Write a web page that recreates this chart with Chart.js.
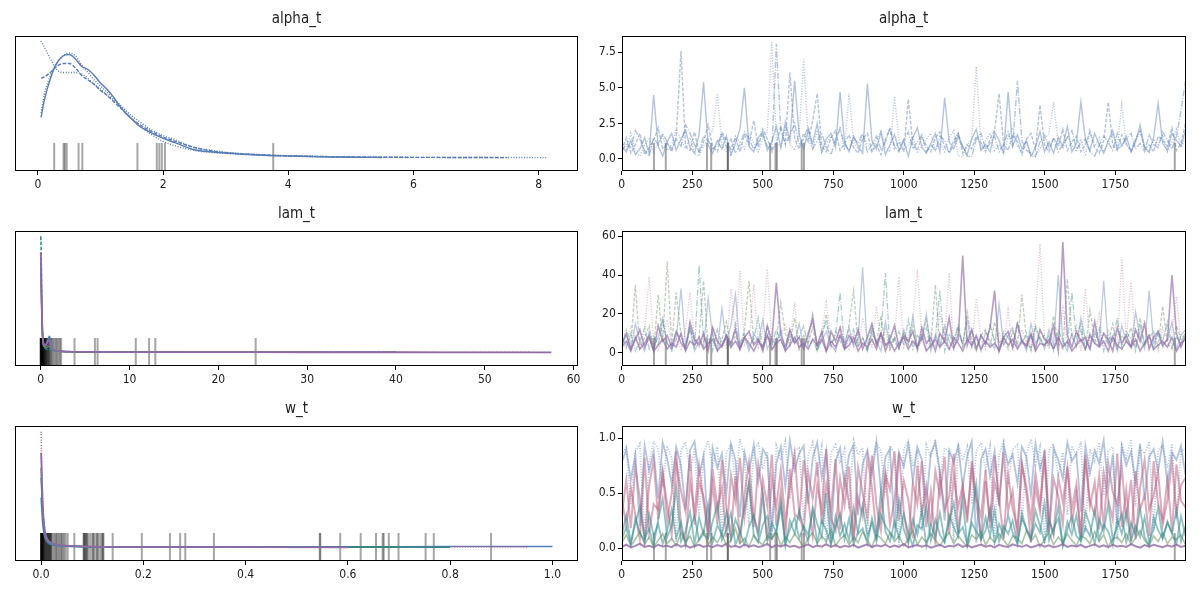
<!DOCTYPE html>
<html>
<head>
<meta charset="utf-8">
<script src="https://cdn.jsdelivr.net/npm/chart.js@4.4.1/dist/chart.umd.min.js"></script>
<style>
body { margin: 0; background: #fff; width: 1200px; height: 600px; position: relative; overflow: hidden; }
canvas { position: absolute; }
</style>
</head>
<body>
<canvas id="alphaKde" width="590" height="200" style="left:0;top:0"></canvas>
<canvas id="alphaTrace" width="610" height="200" style="left:590px;top:0"></canvas>
<canvas id="lamKde" width="590" height="200" style="left:0;top:195px"></canvas>
<canvas id="lamTrace" width="610" height="200" style="left:590px;top:195px"></canvas>
<canvas id="wKde" width="590" height="200" style="left:0;top:390px"></canvas>
<canvas id="wTrace" width="610" height="200" style="left:590px;top:390px"></canvas>
<script>
// ---- data ----
var lastDraw = 1999;
var divergentDraws = [114, 156, 302, 317, 376, 376, 526, 545, 550, 638, 646, 1961];

// alpha_t
var alphaGrid = [0.05,0.1,0.2,0.3,0.4,0.5,0.6,0.7,0.8,0.9,1.0,1.1,1.2,1.3,1.4,1.5,1.6,1.8,2.0,2.2,2.5,2.8,3.0,3.5,4.0,4.5,5.0,5.5,6.0,7.0,7.5,8.15];
var alphaKde1 = [0.27,0.38,0.53,0.63,0.68,0.69,0.66,0.61,0.59,0.55,0.50,0.46,0.41,0.35,0.30,0.26,0.22,0.17,0.13,0.10,0.055,0.04,0.033,0.02,0.013,0.008,0.005,0.003];
var alphaKde2 = [0.53,0.54,0.57,0.61,0.63,0.63,0.60,0.55,0.52,0.49,0.45,0.42,0.38,0.34,0.30,0.26,0.23,0.18,0.14,0.11,0.07,0.045,0.035,0.022,0.014,0.01,0.007,0.005,0.004,0.003,0.002];
var alphaKde3 = [0.78,0.74,0.66,0.59,0.57,0.57,0.57,0.56,0.53,0.49,0.46,0.42,0.39,0.35,0.31,0.26,0.22,0.16,0.11,0.08,0.05,0.035,0.03,0.02,0.013,0.009,0.006,0.005,0.004,0.003,0.003,0.002];
var alphaKde4 = [0.30,0.42,0.55,0.63,0.68,0.70,0.68,0.62,0.57,0.52,0.48,0.44,0.40,0.36,0.32,0.28,0.25,0.19,0.15,0.12,0.07,0.05,0.038,0.024,0.015,0.01,0.006,0.004,0.003];
var alphaDivergent = [0.26, 0.41, 0.43, 0.46, 0.65, 0.71, 1.59, 1.90, 1.94, 1.98, 2.03, 3.76];
var alphaChain1 = [
  0.9,0.5,1.3,0.3,0.7,1.5,0.4,4.5,0.9,0.2,
  1.2,1.8,0.6,1.4,2.0,0.8,0.4,1.7,5.4,1.0,
  0.4,1.3,0.7,1.6,0.3,1.1,2.1,5.0,0.9,0.5,
  1.5,1.9,0.6,1.2,2.3,0.8,2.6,1.3,5.5,1.7,
  0.7,2.0,1.1,2.5,0.5,1.4,1.8,0.8,4.7,1.2,
  0.5,1.6,0.9,0.4,5.3,1.3,0.7,1.9,0.3,1.0,
  1.7,0.6,1.3,0.2,1.5,2.2,0.8,0.4,1.1,1.8,
  0.5,4.3,1.2,0.7,1.6,0.9,0.3,1.4,2.1,0.6,
  1.0,0.5,1.9,1.3,0.4,4.7,0.9,1.7,0.7,1.3,
  0.2,0.8,1.9,0.5,1.2,0.4,1.5,0.9,2.3,0.5,
  1.1,4.0,1.4,0.6,1.8,1.0,0.4,1.3,2.0,0.7,
  0.9,1.6,0.5,1.2,2.4,0.8,0.5,1.5,3.9,1.1,
  0.6,1.8,1.3,0.9,2.0];
var alphaChain2 = [
  0.6,1.5,0.4,1.0,1.8,0.3,0.8,1.3,2.2,0.7,
  1.1,0.5,1.6,7.6,0.9,0.6,1.9,0.4,1.2,2.4,
  0.9,0.5,1.9,1.3,0.7,1.5,0.5,1.7,1.0,2.7,
  0.8,2.1,1.4,0.6,1.1,2.3,1.0,6.1,1.4,0.7,
  1.8,1.2,2.7,4.6,0.9,0.5,1.5,2.0,0.6,1.1,
  1.7,0.8,0.4,1.4,1.8,0.5,1.0,0.3,1.4,2.1,
  0.7,1.2,0.5,4.2,1.0,0.6,1.6,0.9,0.5,1.5,
  1.9,0.8,0.5,1.3,1.8,0.4,1.0,0.7,1.6,1.1,
  0.5,1.4,2.0,4.6,1.0,0.6,1.7,1.2,0.3,1.4,
  1.8,0.7,3.8,1.0,0.5,1.5,0.9,2.1,0.6,1.2,
  1.6,0.5,1.0,1.9,0.8,0.4,1.3,4.0,1.0,0.6,
  1.7,1.1,0.5,1.4,2.0,0.7,1.0,0.5,1.6,1.3,
  0.9,2.2,0.6,1.1,2.5];
var alphaChain3 = [
  1.2,0.7,1.8,0.5,0.2,1.0,1.4,0.5,1.1,1.6,
  0.6,1.0,2.1,1.3,0.7,1.5,0.4,0.2,0.9,1.4,
  2.0,4.6,1.0,0.5,0.2,1.6,1.2,0.7,1.8,1.1,
  0.5,1.4,1.9,8.2,1.3,0.8,2.2,1.0,0.6,1.8,
  7.0,1.4,0.7,2.0,0.4,1.1,1.6,1.0,2.3,0.6,
  4.6,1.2,0.7,1.7,1.0,0.5,1.4,1.9,0.8,0.5,
  4.4,1.3,0.7,1.0,1.6,0.4,0.9,1.4,1.8,0.6,
  1.1,0.5,1.5,2.0,0.2,0.15,1.0,1.4,6.5,0.8,
  1.3,1.8,0.6,1.0,0.4,1.5,2.2,0.9,0.5,1.2,
  0.2,0.15,0.8,1.4,1.8,4.0,1.1,0.7,1.6,1.0,
  0.5,1.4,0.2,2.0,0.9,1.5,0.5,1.1,1.8,0.7,
  3.8,1.0,0.6,1.3,1.9,0.8,0.4,1.4,1.0,1.7,
  0.5,1.2,2.1,0.8,1.5];
var alphaChain4 = [
  0.5,1.1,0.8,2.0,1.4,0.6,0.2,1.5,1.0,1.8,
  1.2,0.7,1.4,0.9,2.4,1.8,1.0,0.5,1.6,1.3,
  0.7,1.0,1.8,0.8,1.4,0.4,1.0,1.9,1.4,0.7,
  1.2,1.7,0.9,0.5,8.1,1.9,1.1,1.6,2.5,1.0,
  1.4,2.3,0.7,1.3,1.8,0.8,0.3,1.4,2.1,1.0,
  0.6,1.5,1.1,1.8,0.5,1.0,1.6,0.7,1.2,2.2,
  0.9,0.5,1.4,1.9,0.7,1.2,1.7,0.5,1.0,0.6,
  1.6,1.3,0.4,1.0,1.8,0.8,0.2,0.15,1.4,1.8,
  0.7,1.1,1.6,0.5,1.0,1.9,0.9,5.5,1.3,0.6,
  0.4,0.2,1.2,1.7,0.8,1.4,0.5,1.0,1.5,2.0,
  0.7,1.1,1.4,0.5,0.2,1.0,1.6,1.2,0.6,1.8,
  0.9,1.4,1.8,0.7,1.1,0.5,1.7,1.0,0.8,1.9,
  1.3,0.7,1.6,3.4,5.5];
var alphaXTicks = [0, 2, 4, 6, 8];
var alphaYTicks = [0, 2.5, 5, 7.5];

// lam_t
var lamGrid = [0,0.05,0.1,0.2,0.35,0.5,0.7,0.9,1.0,1.1,1.3,1.6,2,3,5,10,20,30,40,45,50,55,57.5];
var lamKdeBlue = [0.8,0.7,0.45,0.15,0.06,0.06,0.1,0.15,0.16,0.12,0.05,0.02,0.012,0.007,0.004,0.002,0.001,0.0005,0.0003];
var lamKdeRed = [0.7,0.6,0.4,0.15,0.07,0.06,0.07,0.08,0.07,0.05,0.03,0.018,0.011,0.006,0.004,0.002,0.001,0.0006,0.0003,0.0002,0.0001,0.0001];
var lamKdeGreen = [0.9,0.75,0.5,0.18,0.07,0.05,0.05,0.06,0.06,0.05,0.03,0.018,0.011,0.006,0.004,0.002,0.001,0.0005];
var lamKdeTeal = [1.16,1.0,0.6,0.2,0.07,0.04,0.03,0.03,0.03,0.025,0.02,0.015,0.01,0.006,0.004,0.002,0.001,0.0005,0.0003];
var lamKdePurple = [1.0,0.85,0.55,0.2,0.08,0.07,0.09,0.12,0.11,0.08,0.04,0.02,0.012,0.007,0.004,0.002,0.001,0.0006,0.0003,0.0002,0.0001,0.0001,0.0001];
var lamDivergent = [0,0,0.01,0.02,0.03,0.05,0.06,0.08,0.1,0.12,0.13,0.16,0.18,0.2,0.22,0.24,0.28,0.3,0.32,0.37,0.4,0.42,0.48,0.52,0.55,0.62,0.66,0.7,0.78,0.85,0.9,0.95,1.05,1.15,1.25,1.4,1.55,1.7,1.85,2.0,2.15,2.3,3.8,6.1,6.4,10.7,12.2,12.9,24.2];
var lamBlue = [
  4,9,2,15,6,1,11,3,8,18,
  5,2,7,33,4,12,1,6,3,28,
  9,2,23,5,14,30,3,8,1,10,
  6,17,2,7,4,12,1,9,5,15,
  3,8,20,2,6,11,4,1,9,5,
  13,3,7,44,2,10,6,1,16,4,
  8,2,12,5,19,3,7,20,1,9,
  4,14,6,2,10,5,17,3,8,1,
  11,6,2,25,4,9,13,3,7,1,
  15,5,8,2,12,4,40,6,1,10,
  3,18,7,2,11,5,37,4,9,1,
  14,6,3,21,8,2,32,5,10,3,
  7,16,2,9,12];
var lamRed = [
  6,2,14,8,3,11,39,5,1,9,
  17,4,7,2,12,31,6,3,9,1,
  13,5,8,2,33,10,42,4,7,35,
  3,12,43,6,1,9,15,4,26,2,
  8,5,19,3,11,26,7,1,14,6,
  2,10,4,18,8,3,24,5,12,1,
  7,39,3,9,16,43,6,2,11,4,
  20,8,41,1,13,5,9,3,28,7,
  2,15,6,10,4,22,1,8,12,5,
  3,18,56,7,2,11,6,23,4,9,
  14,1,33,5,8,20,3,12,6,2,
  49,7,37,4,10,17,3,9,1,13,
  6,11,29,4,8];
var lamGreen = [
  3,12,5,35,2,8,14,1,30,6,
  47,4,31,9,2,13,6,8,37,3,
  10,1,7,16,4,9,2,12,37,5,
  8,3,14,1,6,26,10,4,18,2,
  9,5,13,1,7,20,3,11,6,2,
  15,32,4,8,1,12,5,19,3,9,
  6,2,11,4,14,1,8,17,5,35,
  3,10,2,7,13,4,21,6,1,9,
  12,3,16,5,8,2,11,4,30,7,
  1,14,6,9,3,19,5,2,38,8,
  4,12,1,22,7,3,10,5,15,2,
  9,6,13,1,18,4,8,11,3,24,
  5,2,14,7,10];
var lamTeal = [
  8,3,10,1,6,13,2,9,4,16,
  5,1,11,7,3,14,2,45,6,9,
  1,12,4,8,2,15,5,10,3,7,
  18,1,9,4,12,6,2,11,5,8,
  14,3,7,1,10,16,4,9,31,2,
  6,12,3,8,1,14,5,10,41,2,
  7,11,4,17,2,9,6,13,3,8,
  32,1,10,5,15,3,7,12,2,9,
  4,14,6,1,11,8,3,16,5,10,
  2,13,7,4,9,1,12,6,3,31,
  8,15,2,10,5,13,1,9,6,18,
  3,11,7,2,14,4,9,1,12,6,
  16,3,8,5,11];
var lamPurple = [
  5,10,2,7,12,3,8,1,14,6,
  9,3,11,5,2,16,7,4,10,1,
  13,6,3,9,5,12,2,8,11,4,
  7,1,14,6,36,9,3,12,5,8,
  2,10,17,4,7,1,11,6,13,3,
  9,5,12,2,8,15,4,10,1,7,
  14,3,9,6,11,2,13,5,8,1,
  10,6,18,3,7,50,4,12,2,9,
  5,13,32,1,8,11,3,15,6,4,
  10,2,12,7,5,14,1,57,9,3,
  11,6,8,2,16,4,10,7,1,13,
  5,9,3,12,6,15,2,8,11,4,
  7,40,10,3,9];
var lamPurple2 = [
  3,6,1,8,2,5,9,1,4,7,
  2,5,3,10,1,6,4,8,2,5,
  7,1,4,9,3,6,2,8,5,1,
  6,3,9,2,5,7,1,4,8,3,
  5,2,7,4,11,1,6,3,9,2,
  4,8,1,5,3,7,2,10,4,6,
  1,5,8,2,6,3,9,1,4,7,
  3,6,2,8,5,1,7,4,9,2,
  6,3,5,1,8,4,7,2,6,3,
  9,1,5,4,7,2,8,3,6,1,
  4,7,2,9,5,3,6,1,8,4,
  2,6,3,7,1,5,9,2,4,6,
  3,8,1,5,7];
var lamXTicks = [0, 10, 20, 30, 40, 50, 60];
var lamYTicks = [0, 20, 40, 60];

// w_t
var wGrid = [0,0.001,0.003,0.006,0.01,0.02,0.05,0.1,0.2,0.4,0.6,0.7,0.8,0.9,0.95,1.0];
var wKdeBlue = [0.5,0.42,0.25,0.13,0.07,0.03,0.015,0.01,0.008,0.008,0.009,0.01,0.011,0.012,0.013,0.012];
var wKdeRed = [1.16,0.9,0.5,0.25,0.12,0.05,0.02,0.012,0.009,0.008,0.008,0.008,0.009,0.01,0.008];
var wKdeGreen = [0.8,0.65,0.4,0.2,0.1,0.045,0.02,0.01,0.006,0.005,0.004,0.004];
var wKdeTeal = [0.7,0.6,0.35,0.18,0.09,0.04,0.018,0.01,0.007,0.006,0.006,0.006,0.005];
var wKdePurple = [0.95,0.8,0.45,0.22,0.11,0.05,0.02,0.01,0.006,0.005,0.004];
var wDivergent = [0,0,0,0.0005,0.001,0.001,0.0015,0.002,0.002,0.003,0.003,0.004,0.004,0.005,0.005,0.006,0.007,0.008,0.009,0.01,0.011,0.012,0.013,0.014,0.015,0.016,0.017,0.018,0.019,0.02,0.022,0.025,0.028,0.03,0.032,0.035,0.038,0.04,0.042,0.045,0.048,0.052,0.065,0.083,0.084,0.085,0.087,0.088,0.09,0.092,0.096,0.1,0.102,0.104,0.108,0.11,0.112,0.116,0.119,0.121,0.122,0.14,0.197,0.252,0.272,0.282,0.338,0.545,0.546,0.585,0.625,0.655,0.668,0.67,0.68,0.699,0.752,0.768,0.88];
var wBlue = [
  .85,.92,.40,.88,.95,.10,.78,.97,.90,.55,
  .93,.82,.05,.89,.96,.70,.91,.30,.86,.98,
  .75,.92,.15,.87,.94,.60,.99,.83,.20,.90,
  .95,.72,.88,.08,.93,.80,.97,.45,.89,.91,
  .25,.84,.96,.68,.92,.02,.87,.94,.77,.90,
  .35,.98,.85,.91,.12,.79,.95,.88,.50,.93,
  .86,.03,.90,.97,.74,.89,.18,.94,.83,.99,
  .62,.91,.87,.06,.95,.80,.92,.40,.88,.96,
  .71,.93,.10,.85,.97,.58,.90,.94,.22,.86,
  .99,.76,.92,.04,.89,.95,.65,.87,.30,.93,
  .84,.97,.14,.90,.79,.96,.48,.88,.92,.07,
  .94,.82,.99,.38,.91,.86,.97,.16,.89,.93,
  .73,.95,.27,.88,.90];
var wBlue2 = [
  .78,.90,.62,.85,.20,.93,.70,.88,.45,.96,
  .81,.58,.92,.75,.35,.89,.97,.66,.84,.12,
  .91,.73,.86,.50,.95,.80,.28,.87,.69,.94,
  .60,.90,.83,.15,.77,.92,.55,.98,.71,.86,
  .93,.40,.82,.96,.64,.88,.09,.79,.91,.57,
  .85,.94,.30,.76,.89,.67,.97,.52,.83,.90,
  .18,.87,.74,.95,.61,.92,.80,.42,.86,.96,
  .70,.25,.89,.78,.93,.56,.84,.97,.05,.81,
  .90,.65,.88,.38,.94,.76,.85,.59,.92,.83,
  .48,.95,.72,.87,.14,.91,.80,.63,.96,.79,
  .86,.33,.93,.68,.89,.77,.98,.54,.85,.22,
  .92,.75,.88,.60,.95,.44,.83,.90,.70,.97,
  .58,.87,.80,.93,.66];
var wRed = [
  .45,.20,.55,.30,.08,.82,.15,.40,.35,.70,
  .25,.50,.88,.18,.05,.60,.33,.75,.42,.10,
  .58,.22,.80,.36,.12,.65,.04,.48,.78,.28,
  .15,.62,.38,.85,.20,.52,.09,.72,.31,.26,
  .80,.44,.11,.57,.34,.90,.27,.16,.63,.39,
  .74,.07,.46,.29,.83,.55,.13,.37,.68,.21,
  .43,.87,.32,.06,.59,.40,.79,.19,.51,.03,
  .66,.35,.47,.86,.14,.54,.30,.71,.41,.09,
  .61,.24,.84,.45,.08,.67,.36,.18,.77,.49,
  .05,.56,.33,.89,.27,.12,.64,.42,.73,.23,
  .50,.10,.81,.38,.60,.17,.69,.44,.26,.86,
  .19,.53,.06,.70,.35,.48,.11,.79,.40,.25,
  .62,.15,.76,.43,.37];
var wRed2 = [
  .30,.62,.18,.74,.45,.08,.57,.80,.26,.68,
  .40,.12,.77,.52,.33,.85,.21,.60,.47,.15,
  .72,.36,.55,.10,.66,.43,.82,.28,.59,.19,
  .76,.49,.07,.63,.38,.71,.24,.54,.86,.31,
  .14,.69,.45,.78,.22,.58,.35,.81,.17,.64,
  .41,.11,.73,.50,.27,.84,.39,.16,.67,.53,
  .88,.25,.61,.44,.09,.75,.32,.56,.20,.70,
  .48,.83,.13,.65,.37,.58,.23,.79,.46,.29,
  .71,.18,.60,.42,.87,.34,.52,.10,.76,.55,
  .26,.68,.39,.81,.15,.63,.47,.22,.74,.36,
  .58,.12,.85,.43,.30,.66,.19,.77,.51,.40,
  .73,.27,.62,.08,.55,.80,.35,.48,.69,.21,
  .44,.78,.31,.57,.64];
var wGreen = [
  .05,.12,.02,.08,.15,.03,.10,.01,.07,.13,
  .04,.09,.02,.14,.06,.11,.01,.08,.16,.03,
  .10,.05,.13,.02,.07,.18,.04,.09,.01,.12,
  .06,.03,.11,.08,.15,.02,.10,.05,.13,.07,
  .01,.09,.14,.04,.11,.06,.17,.02,.08,.12,
  .03,.10,.05,.15,.07,.01,.12,.09,.04,.14,
  .06,.11,.02,.08,.16,.03,.10,.05,.13,.07,
  .02,.09,.14,.04,.11,.06,.01,.12,.08,.15,
  .03,.10,.05,.13,.07,.02,.11,.09,.04,.16,
  .06,.12,.01,.08,.14,.03,.10,.05,.13,.07,
  .02,.11,.09,.04,.15,.06,.12,.01,.08,.10,
  .05,.13,.03,.09,.16,.07,.02,.11,.06,.14,
  .04,.10,.08,.12,.03];
var wTeal = [
  .12,.30,.05,.22,.38,.08,.18,.02,.26,.45,
  .10,.20,.55,.06,.15,.33,.04,.28,.12,.09,
  .24,.40,.07,.17,.32,.03,.14,.36,.60,.11,
  .05,.21,.29,.09,.16,.42,.02,.25,.13,.34,
  .18,.06,.37,.22,.10,.50,.04,.19,.31,.08,
  .27,.03,.15,.39,.11,.23,.06,.30,.20,.14,
  .09,.44,.17,.05,.26,.12,.35,.02,.21,.10,
  .32,.07,.24,.41,.13,.19,.03,.28,.58,.08,
  .16,.36,.05,.22,.11,.30,.14,.04,.27,.18,
  .09,.34,.20,.06,.25,.13,.38,.02,.17,.29,
  .11,.07,.33,.21,.04,.26,.15,.40,.08,.19,
  .31,.05,.23,.12,.36,.10,.02,.28,.16,.09,
  .24,.13,.35,.06,.20];
var wTeal2 = [
  .08,.19,.03,.27,.14,.06,.31,.11,.22,.04,
  .16,.35,.09,.24,.02,.18,.29,.07,.13,.40,
  .05,.21,.12,.33,.08,.26,.15,.03,.19,.30,
  .10,.48,.06,.23,.14,.37,.04,.17,.28,.09,
  .20,.12,.34,.05,.25,.16,.03,.29,.11,.22,
  .07,.36,.13,.18,.04,.27,.10,.52,.15,.06,
  .24,.09,.31,.14,.02,.21,.17,.38,.07,.26,
  .12,.05,.30,.19,.10,.44,.03,.23,.15,.08,
  .28,.11,.35,.06,.20,.13,.25,.04,.32,.16,
  .09,.22,.14,.41,.07,.18,.27,.03,.24,.12,
  .30,.06,.19,.11,.35,.08,.21,.15,.02,.26,
  .13,.33,.07,.20,.10,.28,.05,.17,.37,.09,
  .23,.14,.04,.29,.11];
var wPurple = [
  .01,.03,.005,.02,.04,.01,.02,.006,.03,.015,
  .02,.008,.035,.012,.025,.004,.018,.03,.01,.022,
  .007,.028,.015,.04,.01,.02,.005,.032,.012,.024,
  .009,.019,.038,.006,.026,.014,.03,.011,.021,.003,
  .017,.033,.008,.023,.013,.036,.01,.027,.005,.02,
  .012,.029,.004,.018,.034,.009,.024,.015,.031,.007,
  .022,.011,.037,.006,.019,.028,.013,.025,.004,.016,
  .03,.008,.021,.014,.035,.01,.026,.005,.018,.032,
  .012,.023,.006,.029,.016,.009,.034,.02,.011,.027,
  .005,.019,.031,.013,.024,.008,.017,.036,.01,.022,
  .015,.028,.006,.02,.033,.011,.025,.007,.03,.014,
  .021,.009,.035,.016,.004,.026,.012,.029,.018,.008,
  .024,.013,.032,.01,.02];
var wXTicks = [0, 0.2, 0.4, 0.6, 0.8, 1.0];
var wYTicks = [0, 0.5, 1.0];
var drawTicks = [0, 250, 500, 750, 1000, 1250, 1500, 1750];

// ---- styling ----
var FONT = "'Liberation Sans Narrow', 'DejaVu Sans Condensed', 'Roboto', sans-serif";
var DASH = { solid: [], dashed: [3.7, 1.6], dotted: [1, 1.65], dashdot: [6.4, 1.6, 1, 1.6] };
var COL = { blue: '88,124,182', red: '184,92,126', green: '92,138,84', teal: '42,136,140', purple: '144,106,168' };
function rgba(c, a) { return 'rgba(' + c + ',' + a + ')'; }

function pairs(xs, ys) {
  return ys.map(function (y, i) { return { x: xs[i], y: y }; });
}
function trace(ys) {
  var n = ys.length;
  return ys.map(function (y, i) { return { x: Math.round(i * lastDraw / (n - 1)), y: y }; });
}
function line(data, col, alpha, dash, width, order, smooth) {
  return {
    data: data, borderColor: rgba(col, alpha), borderDash: DASH[dash], borderWidth: width,
    pointRadius: 0, fill: false, order: order, spanGaps: false,
    cubicInterpolationMode: smooth ? 'monotone' : 'default', tension: 0
  };
}
// one dataset per mark so overlapping marks darken like the original
function rugSets(vals, lo, hi) {
  return vals.map(function (v) {
    return { data: [{ x: v, y: lo }, { x: v, y: hi }], borderColor: 'rgba(0,0,0,0.35)', borderWidth: 2, pointRadius: 0, order: 20 };
  });
}

var frame = {
  id: 'frame',
  afterDraw: function (c) {
    var a = c.chartArea, g = c.ctx;
    g.save();
    g.strokeStyle = '#000';
    g.lineWidth = 1;
    g.strokeRect(Math.round(a.left) + 0.5, Math.round(a.top) + 0.5, Math.round(a.width) - 1, Math.round(a.height) - 1);
    g.restore();
  }
};

function fixedTicks(arr) {
  return function (s) { s.ticks = arr.map(function (v) { return { value: v }; }); };
}

function panel(id, title, datasets, x, y, right) {
  var tickFont = { family: FONT, size: 12 };
  var yScale = {
    type: 'linear', min: y.min, max: y.max, display: right,
    grid: { display: true, drawOnChartArea: false, drawTicks: true, tickLength: 4, color: '#000' },
    border: { display: false },
    ticks: { font: tickFont, color: '#222', padding: 2, autoSkip: false, callback: y.fmt }
  };
  if (right) {
    yScale.afterBuildTicks = fixedTicks(y.ticks);
    yScale.afterFit = function (s) { s.width = 31.8; };
  }
  return new Chart(document.getElementById(id), {
    type: 'line',
    data: { datasets: datasets },
    options: {
      responsive: false,
      animation: false,
      events: [],
      layout: { padding: right ? { left: 0, right: 14.5, top: 0, bottom: 0 } : { left: 15, right: 12, top: 0, bottom: 0 } },
      plugins: {
        legend: { display: false },
        tooltip: { enabled: false },
        title: {
          display: true, text: title, fullSize: false, color: '#222',
          font: { family: FONT, size: 15, weight: 'normal' },
          padding: { top: 10, bottom: 8 }
        }
      },
      scales: {
        x: {
          type: 'linear', min: x.min, max: x.max,
          afterBuildTicks: fixedTicks(x.ticks),
          afterFit: function (s) { s.height = 29; },
          grid: { display: true, drawOnChartArea: false, drawTicks: true, tickLength: 4, color: '#000' },
          border: { display: false },
          ticks: { font: tickFont, color: '#222', padding: 3, maxRotation: 0, autoSkip: false, callback: x.fmt }
        },
        y: yScale
      }
    },
    plugins: [frame]
  });
}

var fmt0 = function (v) { return String(v); };
var fmt1 = function (v) { return Number(v).toFixed(1); };

// alpha_t
panel('alphaKde', 'alpha_t', [
  line(pairs(alphaGrid, alphaKde1), COL.blue, 1, 'solid', 1.4, 4, true),
  line(pairs(alphaGrid, alphaKde2), COL.blue, 1, 'dashed', 1.4, 3, true),
  line(pairs(alphaGrid, alphaKde3), COL.blue, 1, 'dotted', 1.4, 2, true),
  line(pairs(alphaGrid, alphaKde4), COL.blue, 1, 'dotted', 1.4, 1, true)
].concat(rugSets(alphaDivergent, -0.087, 0.1)),
  { min: -0.366, max: 8.63, ticks: alphaXTicks, fmt: fmt0 }, { min: -0.087, max: 0.813 }, false);

panel('alphaTrace', 'alpha_t', [
  line(trace(alphaChain1), COL.blue, 0.45, 'solid', 1.4, 4),
  line(trace(alphaChain2), COL.blue, 0.45, 'dashed', 1.4, 3),
  line(trace(alphaChain3), COL.blue, 0.45, 'dotted', 1.4, 2),
  line(trace(alphaChain4), COL.blue, 0.45, 'dashdot', 1.4, 1)
].concat(rugSets(divergentDraws, -0.85, 1.13)),
  { min: 0, max: lastDraw, ticks: drawTicks, fmt: fmt0 }, { min: -0.85, max: 8.65, ticks: alphaYTicks, fmt: fmt1 }, true);

// lam_t
panel('lamKde', 'lam_t', [
  line(pairs(lamGrid, lamKdeBlue), COL.blue, 1, 'solid', 1.5, 5, true),
  line(pairs(lamGrid, lamKdeRed), COL.red, 1, 'dotted', 1.5, 4, true),
  line(pairs(lamGrid, lamKdeGreen), COL.green, 1, 'solid', 1.5, 3, true),
  line(pairs(lamGrid, lamKdeTeal), COL.teal, 1, 'dashed', 1.5, 2, true),
  line(pairs(lamGrid, lamKdePurple), COL.purple, 1, 'solid', 1.8, 1, true)
].concat(rugSets(lamDivergent, -0.137, 0.143)),
  { min: -2.9, max: 60.5, ticks: lamXTicks, fmt: fmt0 }, { min: -0.137, max: 1.213 }, false);

panel('lamTrace', 'lam_t', [
  line(trace(lamBlue), COL.blue, 0.4, 'solid', 1.3, 6),
  line(trace(lamRed), COL.red, 0.4, 'dotted', 1.3, 5),
  line(trace(lamGreen), COL.green, 0.4, 'dashed', 1.3, 4),
  line(trace(lamTeal), COL.teal, 0.4, 'dashdot', 1.3, 3),
  line(trace(lamPurple), COL.purple, 0.65, 'solid', 1.6, 2),
  line(trace(lamPurple2), COL.purple, 0.65, 'solid', 1.6, 1)
].concat(rugSets(divergentDraws, -6.7, 7.6)),
  { min: 0, max: lastDraw, ticks: drawTicks, fmt: fmt0 }, { min: -6.7, max: 62.6, ticks: lamYTicks, fmt: fmt0 }, true);

// w_t
panel('wKde', 'w_t', [
  line(pairs(wGrid, wKdeBlue), COL.blue, 1, 'solid', 1.5, 5, true),
  line(pairs(wGrid, wKdeRed), COL.red, 1, 'dotted', 1.5, 4, true),
  line(pairs(wGrid, wKdeGreen), COL.green, 1, 'solid', 1.5, 3, true),
  line(pairs(wGrid, wKdeTeal), COL.teal, 1, 'solid', 1.5, 2, true),
  line(pairs(wGrid, wKdePurple), COL.purple, 1, 'solid', 1.8, 1, true)
].concat(rugSets(wDivergent, -0.133, 0.147)),
  { min: -0.051, max: 1.05, ticks: wXTicks, fmt: fmt1 }, { min: -0.133, max: 1.217 }, false);

panel('wTrace', 'w_t', [
  line(trace(wBlue), COL.blue, 0.45, 'dotted', 1.8, 8),
  line(trace(wBlue2), COL.blue, 0.45, 'solid', 1.8, 7),
  line(trace(wRed), COL.red, 0.5, 'solid', 2, 6),
  line(trace(wRed2), COL.red, 0.5, 'solid', 2, 5),
  line(trace(wGreen), COL.green, 0.5, 'solid', 1.6, 4),
  line(trace(wTeal), COL.teal, 0.5, 'solid', 1.8, 3),
  line(trace(wTeal2), COL.teal, 0.5, 'solid', 1.8, 2),
  line(trace(wPurple), COL.purple, 0.8, 'solid', 2, 1)
].concat(rugSets(divergentDraws, -0.118, 0.136)),
  { min: 0, max: lastDraw, ticks: drawTicks, fmt: fmt0 }, { min: -0.118, max: 1.11, ticks: wYTicks, fmt: fmt1 }, true);
</script>
</body>
</html>
